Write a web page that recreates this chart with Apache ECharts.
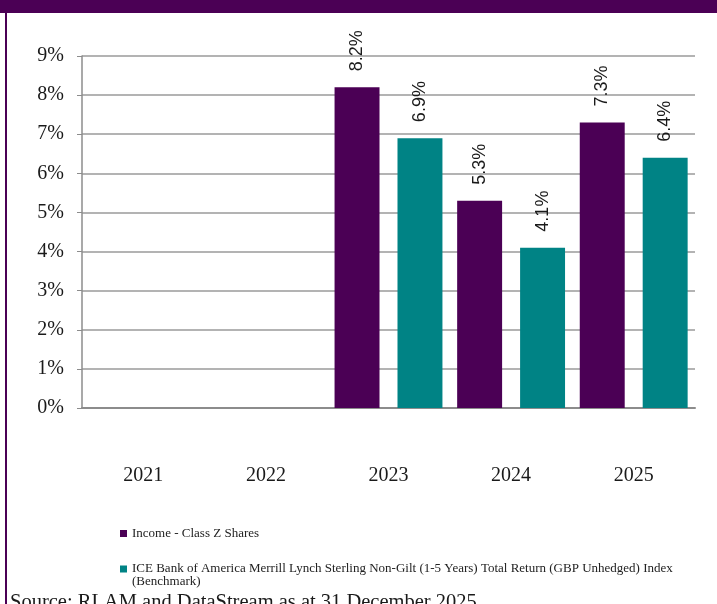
<!DOCTYPE html>
<html>
<head>
<meta charset="utf-8">
<script src="https://cdn.jsdelivr.net/npm/echarts@6/dist/echarts.min.js"></script>
<style>
html,body{margin:0;padding:0;background:#fff;}
#c{width:717px;height:604px;}
</style>
</head>
<body>
<div id="c"></div>
<script>
const categories = ['2021', '2022', '2023', '2024', '2025'];
const fundName = 'Income - Class Z Shares';
const benchName = 'ICE Bank of America Merrill Lynch Sterling Non-Gilt (1-5 Years) Total Return (GBP Unhedged) Index (Benchmark)';
const fundValues = [null, null, 8.2, 5.3, 7.3];
const benchValues = [null, null, 6.9, 4.1, 6.4];
const sourceText = 'Source: RLAM and DataStream as at 31 December 2025';

const purple = '#4B0055';
const teal = '#008385';
const serif = '"Liberation Serif", "DejaVu Serif", serif';

const labelCfg = {
  show: true,
  position: 'top',
  rotate: 90,
  align: 'left',
  verticalAlign: 'middle',
  distance: 16,
  fontFamily: '"Liberation Sans", Arial, sans-serif',
  fontSize: 18,
  color: '#1a1a1a',
  formatter: p => p.value + '%'
};

const chart = echarts.init(document.getElementById('c'), null, {renderer: 'canvas'});
chart.setOption({
  animation: false,
  backgroundColor: '#fff',
  grid: {left: 82, right: 22, top: 56, bottom: 196, containLabel: false},
  xAxis: {
    type: 'category',
    data: categories,
    axisLine: {show: true, lineStyle: {color: '#8c8c8c', width: 2}},
    axisTick: {show: false},
    axisLabel: {margin: 58, fontFamily: serif, fontSize: 20, color: '#1a1a1a'}
  },
  yAxis: {
    type: 'value',
    min: 0, max: 9, interval: 1,
    axisLine: {show: true, lineStyle: {color: '#8c8c8c', width: 1.5}},
    axisTick: {show: true, length: 5, lineStyle: {color: '#8c8c8c'}},
    splitLine: {show: true, lineStyle: {color: '#9a9a9a', width: 1.5}},
    axisLabel: {margin: 18, fontFamily: serif, fontSize: 20, color: '#1a1a1a', formatter: '{value}%'}
  },
  legend: [{
    orient: 'vertical',
    left: 115, top: 522,
    itemWidth: 7, itemHeight: 7,
    itemGap: 5,
    icon: 'rect',
    data: [fundName],
    textStyle: {fontFamily: serif, fontSize: 13, color: '#222'}
  }, {
    orient: 'vertical',
    left: 115, top: 545,
    itemWidth: 7, itemHeight: 7,
    itemGap: 5,
    icon: 'rect',
    data: [benchName],
    formatter: name => {
      const i = name.lastIndexOf(' (Benchmark)');
      return '\n' + name.slice(0, i) + '\n' + name.slice(i + 1);
    },
    textStyle: {fontFamily: serif, fontSize: 13, color: '#222', lineHeight: 12.5}
  }],
  series: [{
    name: fundName,
    type: 'bar',
    data: fundValues,
    itemStyle: {color: purple},
    barGap: '40%',
    barCategoryGap: '12%',
    label: labelCfg
  }, {
    name: benchName,
    type: 'bar',
    data: benchValues,
    itemStyle: {color: teal},
    label: labelCfg
  }],
  graphic: [
    {type: 'rect', left: 0, top: 0, shape: {width: 717, height: 13}, style: {fill: purple}},
    {type: 'rect', left: 5, top: 13, shape: {width: 2, height: 591}, style: {fill: purple}},
    {type: 'text', left: 10, top: 592, style: {text: sourceText, font: '20.5px "Liberation Serif", serif', fill: '#1a1a1a'}}
  ]
});
</script>
</body>
</html>
